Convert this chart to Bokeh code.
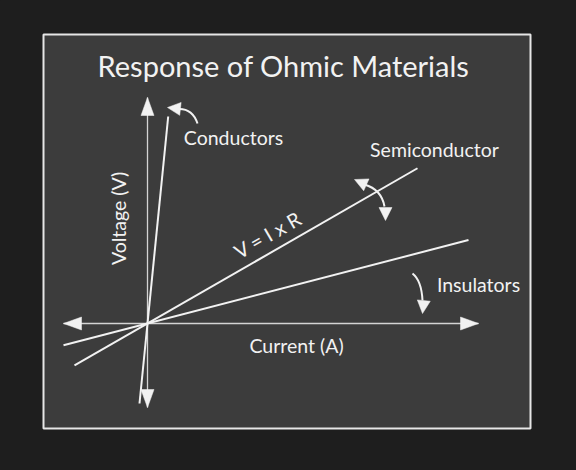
import math
from bokeh.plotting import figure
from bokeh.models import Range1d
from bokeh.core.properties import value
from bokeh.embed import file_html
from bokeh.resources import INLINE

# ---- data ----
materials = ["Conductors", "Semiconductor", "Insulators"]
resistance = [10.0, 0.575, 0.26]          # slope of V against I
current_lo = [-8.0, -73.0, -84.0]
current_hi = [20.7, 270.0, 321.0]
current_axis = [-84.0, 331.0]
voltage_axis = [-84.0, 226.0]

title = "Response of Ohmic Materials"
x_label = "Current (A)"
y_label = "Voltage (V)"
law = "V = I x R"

FONT = "Lato"
BG = "#1e1e1e"
PANEL = "#3c3c3c"
WHITE = "#f2f2f2"

p = figure(width=560, height=454, x_range=Range1d(-147, 413), y_range=Range1d(-131, 323),
           output_backend="svg", toolbar_location=None, min_border=0,
           x_axis_type=None, y_axis_type=None,
           background_fill_color=BG, border_fill_color=BG, outline_line_color=None)
p.grid.visible = False

# panel
p.quad(left=[-104], right=[383], bottom=[-105], top=[289], fill_color=PANEL,
       line_color="#e6e6e6", line_width=2)

def head(tx, ty, dx, dy, L, W):
    n = math.hypot(dx, dy)
    ux, uy = dx / n, dy / n
    bx, by = tx - ux * L, ty - uy * L
    px, py = -uy, ux
    return [tx, bx + px * W, bx - px * W], [ty, by + py * W, by - py * W]

# axes
p.line(current_axis, [0, 0], line_color="#d4d4d4", line_width=1.3)
p.line([0, 0], voltage_axis, line_color="#d4d4d4", line_width=1.3)
hx, hy = [], []
for (tx, ty, dx, dy) in [(current_axis[0], 0, -1, 0), (current_axis[1], 0, 1, 0),
                         (0, voltage_axis[0], 0, -1), (0, voltage_axis[1], 0, 1)]:
    a, b = head(tx, ty, dx, dy, 18, 6.5)
    hx.append(a); hy.append(b)
p.patches(hx, hy, fill_color=WHITE, line_color=WHITE, line_width=0.5)

# material lines
xs = [[lo, hi] for lo, hi in zip(current_lo, current_hi)]
ys = [[lo * r, hi * r] for lo, hi, r in zip(current_lo, current_hi, resistance)]
p.multi_line(xs, ys, line_color=WHITE, line_width=2)

# curved arrows
p.quadratic(x0=[50, 217, 265], y0=[200, 139, 50], x1=[31, 237, 275], y1=[214.5, 117, 23],
            cx=[45, 234, 274], cy=[215, 134, 43], line_color=WHITE, line_width=2)
ahx, ahy = [], []
for (tx, ty, dx, dy) in [(20, 216, -12, 1.3), (207, 144, -10, 4.5), (238, 103, 0, -1), (275, 10, -0.1, -1)]:
    a, b = head(tx, ty, dx, dy, 13, 6.5)
    ahx.append(a); ahy.append(b)
p.patches(ahx, ahy, fill_color=WHITE, line_color=WHITE, line_width=0.5)

# texts
p.text([136], [258], text=[title], text_font=value(FONT), text_font_size="29px",
       text_color=WHITE, text_align="center", text_baseline="middle")
p.text([86, 287, 331, 149], [186, 174, 39, -22],
       text=[materials[0], materials[1], materials[2], x_label],
       text_font=value(FONT), text_font_size="19.5px", text_color=WHITE,
       text_align="center", text_baseline="middle")
p.text([-29], [105], text=[y_label], angle=math.pi / 2, text_font=value(FONT),
       text_font_size="19.5px", text_color=WHITE, text_align="center", text_baseline="middle")
p.text([120], [89], text=[law], angle=math.atan(resistance[1]), text_font=value(FONT),
       text_font_size="20px", text_color=WHITE, text_align="center", text_baseline="middle")

html = file_html(p, INLINE)
html = html.replace("</head>", "<style>html,body{background:%s;}</style></head>" % BG, 1)
open("out.html", "w").write(html)
